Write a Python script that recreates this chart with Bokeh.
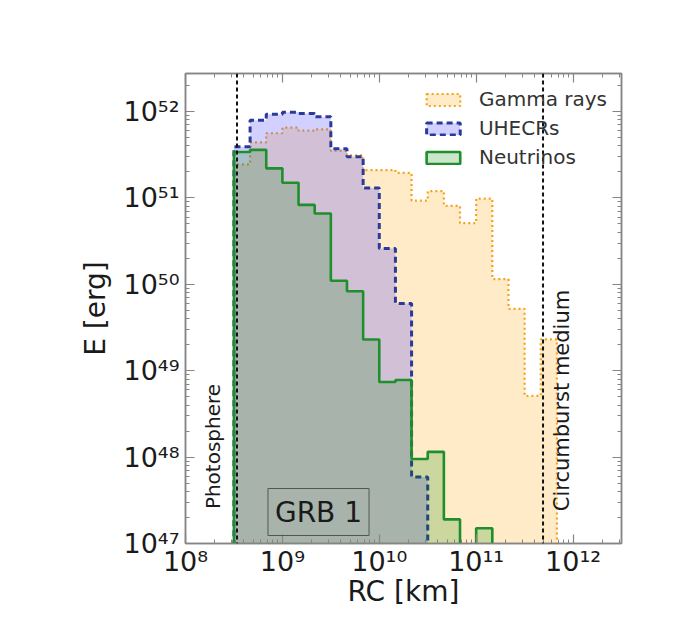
import numpy as np
from math import pi
from bokeh.plotting import figure
from bokeh.models import (Range1d, FixedTicker, CustomJSTickFormatter, LogAxis,
                          Span, Label, Legend, LegendItem)
from bokeh.embed import file_html
from bokeh.resources import INLINE

# ---------------- data ----------------
# histogram binning in log10(R_C / km)
bin_log_start = 8.5
bin_log_width = 1.0 / 6.0
n_bins = 20
edges = 10 ** (bin_log_start + bin_log_width * np.arange(n_bins + 1))

gamma_E = [2.45e51, 4.4e51, 5.6e51, 6.5e51, 6.0e51, 6.2e51, 3.5e51, 3.1e51,
           2.1e51, 2.1e51, 1.95e51, 9.3e50, 1.2e51, 8.1e50, 5.1e50, 9.8e50,
           1.15e50, 5.2e49, 5.1e48, 2.3e49]
uhecr_E = [3.9e51, 7.9e51, 9.3e51, 9.8e51, 9.5e51, 8.7e51, 3.7e51, 3.0e51,
           1.3e51, 2.6e50, 6.0e49, 5.9e47]
nu_E = [3.4e51, 3.6e51, 2.2e51, 1.5e51, 8.3e50, 6.6e50, 1.1e50, 8.3e49,
        2.3e49, 7.4e48, 7.8e48, 9.5e47, 1.15e48, 1.9e47, 0.0, 1.5e47]

series_names = ["Gamma rays", "UHECRs", "Neutrinos"]
photosphere_R = 3.4e8
circumburst_R = 4.9e11

x_tick_exp = [8, 9, 10, 11, 12]
y_tick_exp = [47, 48, 49, 50, 51, 52]

x_title = "RC [km]"
y_title = "E [erg]"

# ---------------- geometry ----------------
X_MIN_LOG, X_MAX_LOG = 8.0, 12.5
Y_MIN_LOG, Y_MAX_LOG = 47.0, 52.44
FRAME_L, FRAME_R, FRAME_T, FRAME_B = 185, 621, 73, 543   # picture pixels
W, H = 692, 620


def x_at(px):
    return 10 ** (X_MIN_LOG + (px - FRAME_L) * (X_MAX_LOG - X_MIN_LOG) / (FRAME_R - FRAME_L))


def y_at(py):
    return 10 ** (Y_MIN_LOG + (FRAME_B - py) * (Y_MAX_LOG - Y_MIN_LOG) / (FRAME_B - FRAME_T))


FLOOR = 1e45


def step_polygon(vals):
    xs, ys = [edges[0]], [FLOOR]
    for i, v in enumerate(vals):
        v = v if v > 0 else FLOOR
        xs += [edges[i], edges[i + 1]]
        ys += [v, v]
    xs.append(edges[len(vals)])
    ys.append(FLOOR)
    return xs, ys


p = figure(width=W, height=H, x_axis_type="log", y_axis_type="log",
           x_range=Range1d(10 ** X_MIN_LOG, 10 ** X_MAX_LOG),
           y_range=Range1d(10 ** Y_MIN_LOG, 10 ** Y_MAX_LOG),
           output_backend="svg", toolbar_location=None,
           min_border_left=FRAME_L, min_border_right=W - FRAME_R,
           min_border_top=FRAME_T, min_border_bottom=H - FRAME_B)
p.grid.visible = False
p.background_fill_color = "white"
p.border_fill_color = "white"
p.outline_line_color = "#858585"
p.outline_line_width = 1.5

# ---------------- histograms ----------------
gx, gy = step_polygon(gamma_E)
r_g = p.patch(gx, gy, fill_color="orange", fill_alpha=0.22,
              line_color="#f7a21b", line_width=2.2, line_dash="2 3")
ux, uy = step_polygon(uhecr_E)
r_u = p.patch(ux, uy, fill_color="#5a50ff", fill_alpha=0.27,
              line_color="#2a3a9c", line_width=3, line_dash="6 4")
nx, ny = step_polygon(nu_E)
r_n = p.patch(nx, ny, fill_color="green", fill_alpha=0.2,
              line_color="#1d8f2c", line_width=2.6)

# ---------------- markers of regions ----------------
for loc in (photosphere_R, circumburst_R):
    p.add_layout(Span(location=loc, dimension="height", line_color="#111111",
                      line_width=2, line_dash="4 3"))

# ---------------- axes ----------------
sup_js = """
const sup = {"0":"\u2070","1":"\u00b9","2":"\u00b2","3":"\u00b3","4":"\u2074",
             "5":"\u2075","6":"\u2076","7":"\u2077","8":"\u2078","9":"\u2079","-":"\u207b"};
const e = Math.round(Math.log10(tick));
return "10" + String(e).split("").map(c => sup[c]).join("");
"""


def make_ticker(exps):
    major = [10.0 ** e for e in exps]
    minor = [m * 10.0 ** e for e in range(exps[0] - 1, exps[-1] + 1) for m in range(2, 10)]
    return FixedTicker(ticks=major, minor_ticks=minor)


xt = make_ticker(x_tick_exp)
yt = make_ticker(y_tick_exp)


def style_axis(ax, labels):
    ax.axis_line_color = "#858585"
    ax.axis_line_width = 1.5
    ax.major_tick_line_color = "#858585"
    ax.minor_tick_line_color = "#858585"
    ax.major_tick_in = 9
    ax.major_tick_out = 0
    ax.minor_tick_in = 4
    ax.minor_tick_out = 0
    ax.major_tick_line_width = 1.2
    ax.minor_tick_line_width = 1
    if labels:
        ax.formatter = CustomJSTickFormatter(code=sup_js)
        ax.major_label_text_font = "DejaVu Sans"
        ax.major_label_text_font_size = "27px"
        ax.major_label_text_color = "#1a1a1a"
        ax.axis_label_text_font = "DejaVu Sans"
        ax.axis_label_text_font_size = "28px"
        ax.axis_label_text_font_style = "normal"
        ax.axis_label_text_color = "#1a1a1a"
    else:
        ax.formatter = CustomJSTickFormatter(code='return "";')


p.xaxis.ticker = xt
p.yaxis.ticker = yt
style_axis(p.xaxis[0], True)
style_axis(p.yaxis[0], True)
p.xaxis.major_label_standoff = 2
p.yaxis.major_label_standoff = 6
p.xaxis.axis_label = x_title
p.yaxis.axis_label = y_title
p.xaxis.axis_label_standoff = -5
p.yaxis.axis_label_standoff = 8

top_ax = LogAxis(ticker=xt)
style_axis(top_ax, False)
p.add_layout(top_ax, "above")
right_ax = LogAxis(ticker=yt)
style_axis(right_ax, False)
p.add_layout(right_ax, "right")

# ---------------- annotations ----------------
lab_col = "#1a1a1a"
p.add_layout(Label(x=x_at(212), y=y_at(446), text="Photosphere", angle=pi / 2,
                   text_font="DejaVu Sans", text_font_size="20px",
                   text_align="center", text_baseline="middle", text_color=lab_col))
p.add_layout(Label(x=x_at(561), y=y_at(400), text="Circumburst medium", angle=pi / 2,
                   text_font="DejaVu Sans", text_font_size="21px",
                   text_align="center", text_baseline="middle", text_color=lab_col))
p.add_layout(Label(x=x_at(318), y=y_at(511.5), text="GRB 1",
                   text_font="DejaVu Sans", text_font_size="28px",
                   text_align="center", text_baseline="middle", text_color=lab_col,
                   border_line_color="#555555", border_line_width=1,
                   background_fill_color=None, padding=7))

# ---------------- legend ----------------
legend = Legend(items=[LegendItem(label=series_names[0], renderers=[r_g]),
                       LegendItem(label=series_names[1], renderers=[r_u]),
                       LegendItem(label=series_names[2], renderers=[r_n])],
                location="top_right", margin=4, padding=10,
                glyph_width=42, glyph_height=15, label_standoff=15,
                spacing=5, label_height=24,
                label_text_font="DejaVu Sans", label_text_font_size="20px",
                label_text_color="#333333",
                background_fill_alpha=0, border_line_alpha=0)
p.add_layout(legend)

open("out.html", "w").write(file_html(p, INLINE))
